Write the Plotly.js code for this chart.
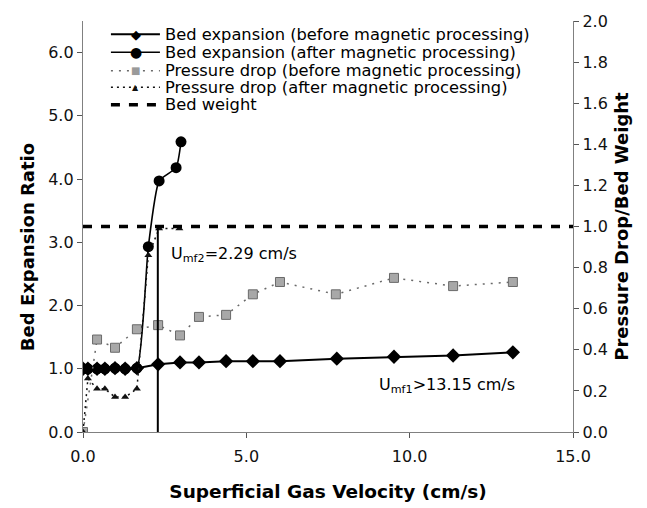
<!DOCTYPE html>
<html>
<head>
<meta charset="utf-8">
<script src="https://cdn.plot.ly/plotly-3.0.1.min.js"></script>
<style>html,body{margin:0;padding:0;background:#fff}#chart{width:647px;height:508px}</style>
</head>
<body>
<div id="chart"></div>
<script>
// ---- data ----
var expBeforeX = [0, 0.15, 0.43, 0.67, 0.98, 1.29, 1.65, 2.3, 2.97, 3.55, 4.38, 5.2, 6.03, 7.77, 9.52, 11.33, 13.16];
var expBeforeY = [1.0, 1.0, 1.0, 1.0, 1.01, 1.0, 1.01, 1.07, 1.1, 1.1, 1.12, 1.12, 1.12, 1.16, 1.19, 1.21, 1.26];

var expAfterX = [0, 0.15, 0.43, 0.67, 0.98, 1.29, 1.65, 2.0, 2.33, 2.85, 3.0];
var expAfterY = [1.0, 1.0, 1.0, 1.0, 1.01, 1.0, 1.01, 2.93, 3.97, 4.18, 4.59];

var dpBeforeX = [0, 0.43, 0.98, 1.65, 2.3, 2.97, 3.55, 4.38, 5.2, 6.03, 7.74, 9.52, 11.33, 13.16];
var dpBeforeY = [0, 0.45, 0.41, 0.50, 0.52, 0.47, 0.56, 0.57, 0.67, 0.73, 0.67, 0.75, 0.71, 0.73];

var dpAfterX = [0, 0.15, 0.43, 0.67, 0.98, 1.29, 1.65, 2.0, 2.33, 2.95];
var dpAfterY = [0, 0.26, 0.21, 0.21, 0.17, 0.17, 0.21, 0.86, 0.99, 0.99];

var bedWeightX = [0, 15];
var bedWeightY = [1.0, 1.0];

var umf2 = 2.29;
var umf1Label = 'U<sub>mf1</sub>>13.15 cm/s';
var umf2Label = 'U<sub>mf2</sub>=2.29 cm/s';

var xTicks = [0, 5, 10, 15];
var yTicks = [0, 1, 2, 3, 4, 5, 6];
var y2Ticks = [0, 0.2, 0.4, 0.6, 0.8, 1.0, 1.2, 1.4, 1.6, 1.8, 2.0];

var xTitle = 'Superficial Gas Velocity (cm/s)';
var yTitle = 'Bed Expansion Ratio';
var y2Title = 'Pressure Drop/Bed Weight';

var legendNames = [
  'Bed expansion (before magnetic processing)',
  'Bed expansion (after magnetic processing)',
  'Pressure drop (before magnetic processing)',
  'Pressure drop (after magnetic processing)',
  'Bed weight'
];

// ---- chart ----
var FONT = 'DejaVu Sans, Arial, sans-serif';

var traces = [
  {x: dpBeforeX, y: dpBeforeY, yaxis: 'y2', mode: 'lines+markers', name: legendNames[2],
   line: {color: '#6a6a6a', width: 1.5, dash: '2px,6px'},
   marker: {symbol: 'square', size: 9, color: '#a8a8a8', line: {color: '#6a6a6a', width: 1}}},
  {x: dpAfterX, y: dpAfterY, yaxis: 'y2', mode: 'lines+markers', name: legendNames[3],
   line: {color: '#111', width: 1.5, dash: '2px,4px'},
   marker: {symbol: 'triangle-up', size: 7, color: '#111'}},
  {x: bedWeightX, y: bedWeightY, yaxis: 'y2', mode: 'lines', name: legendNames[4],
   line: {color: '#000', width: 3.5, dash: '9px,9px'}},
  {x: expBeforeX, y: expBeforeY, yaxis: 'y', mode: 'lines+markers', name: legendNames[0],
   line: {color: '#000', width: 2},
   marker: {symbol: 'diamond', size: 11, color: '#000'}},
  {x: expAfterX, y: expAfterY, yaxis: 'y', mode: 'lines+markers', name: legendNames[1],
   line: {color: '#000', width: 1.6, shape: 'spline', smoothing: 0.5},
   marker: {symbol: 'circle', size: 11, color: '#000'}}
];

// custom legend (rows placed in paper coordinates)
var rowY = [0.968, 0.924, 0.879, 0.839, 0.796];
var lx0 = 0.057, lx1 = 0.157, lxm = 0.108, ltx = 0.166;
var shapes = [
  {type: 'line', xref: 'x', yref: 'y2', x0: umf2, x1: umf2, y0: 0, y1: bedWeightY[0],
   line: {color: '#000', width: 2}},
  {type: 'line', xref: 'paper', yref: 'paper', x0: lx0, x1: lx1, y0: rowY[0], y1: rowY[0], line: {color: '#000', width: 2}},
  {type: 'line', xref: 'paper', yref: 'paper', x0: lx0, x1: lx1, y0: rowY[1], y1: rowY[1], line: {color: '#000', width: 1.6}},
  {type: 'line', xref: 'paper', yref: 'paper', x0: lx0, x1: lx1, y0: rowY[2], y1: rowY[2], line: {color: '#6a6a6a', width: 1.5, dash: '2px,6px'}},
  {type: 'line', xref: 'paper', yref: 'paper', x0: lx0, x1: lx1, y0: rowY[3], y1: rowY[3], line: {color: '#111', width: 1.5, dash: '2px,4px'}},
  {type: 'line', xref: 'paper', yref: 'paper', x0: lx0, x1: lx1 - 0.006, y0: rowY[4], y1: rowY[4], line: {color: '#000', width: 3.5, dash: '9px,9px'}}
];

var symbols = [
  {t: '\u25C6', size: 13, color: '#000'},
  {t: '\u25CF', size: 14, color: '#000'},
  {t: '\u25A0', size: 10, color: '#9a9a9a'},
  {t: '\u25B2', size: 8, color: '#111'}
];

var annotations = [];
for (var i = 0; i < legendNames.length; i++) {
  annotations.push({xref: 'paper', yref: 'paper', x: ltx, y: rowY[i], xanchor: 'left', yanchor: 'middle',
    text: legendNames[i], showarrow: false, borderpad: 0, font: {family: FONT, size: 16.3, color: '#000'}});
}
for (var j = 0; j < symbols.length; j++) {
  annotations.push({xref: 'paper', yref: 'paper', x: lxm, y: rowY[j], xanchor: 'center', yanchor: 'middle',
    text: symbols[j].t, showarrow: false, borderpad: 0,
    font: {family: FONT, size: symbols[j].size, color: symbols[j].color}});
}
annotations.push({xref: 'x', yref: 'y', x: 2.62, y: 2.8, xanchor: 'left', yanchor: 'middle',
  text: umf2Label, showarrow: false, font: {family: FONT, size: 16, color: '#000'}});
annotations.push({xref: 'x', yref: 'y', x: 13.3, y: 0.73, xanchor: 'right', yanchor: 'middle',
  text: umf1Label, showarrow: false, font: {family: FONT, size: 16, color: '#000'}});
// left axis title (placed slightly below the axis centre, as in the reference)
annotations.push({xref: 'paper', yref: 'paper', x: -0.114, y: 0.45, xanchor: 'center', yanchor: 'middle',
  text: '<b>' + yTitle + '</b>', textangle: -90, showarrow: false,
  font: {family: FONT, size: 18, color: '#000'}});

var axisCommon = {
  showgrid: false, zeroline: false, showline: true, linecolor: '#808080', linewidth: 1.2,
  ticks: 'outside', ticklen: 5, tickcolor: '#555', tickwidth: 1,
  tickformat: '.1f', tickfont: {family: FONT, size: 16, color: '#111'}
};

var layout = {
  width: 647, height: 508,
  margin: {l: 83, r: 74, t: 21, b: 76},
  paper_bgcolor: '#fff', plot_bgcolor: '#fff',
  showlegend: false,
  font: {family: FONT, color: '#000'},
  xaxis: Object.assign({}, axisCommon, {
    range: [0, 15], tickvals: xTicks, ticklabelstandoff: 5,
    title: {text: xTitle, font: {family: FONT, size: 18.5, color: '#000', weight: 'bold'}, standoff: 19}
  }),
  yaxis: Object.assign({}, axisCommon, {
    range: [0, 6.5], tickvals: yTicks
  }),
  yaxis2: Object.assign({}, axisCommon, {
    range: [0, 2], tickvals: y2Ticks, overlaying: 'y', side: 'right',
    title: {text: y2Title, font: {family: FONT, size: 18, color: '#000', weight: 'bold'}, standoff: 8}
  }),
  shapes: shapes,
  annotations: annotations
};

Plotly.newPlot('chart', traces, layout, {displayModeBar: false, staticPlot: true});
</script>
</body>
</html>
